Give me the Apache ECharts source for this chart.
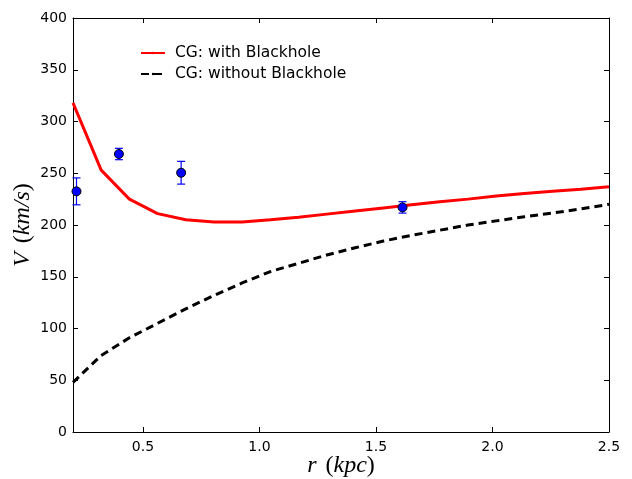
<!DOCTYPE html>
<html><head><meta charset="utf-8">
<script src="https://cdn.jsdelivr.net/npm/echarts@6/dist/echarts.min.js"></script>
<style>html,body{margin:0;padding:0;background:#fff}#c{width:632px;height:479px}</style>
</head><body><div id="c"></div>
<script>
const rValues = [0.2, 0.321, 0.442, 0.563, 0.684, 0.805, 0.926, 1.047, 1.168, 1.289, 1.411, 1.532, 1.653, 1.774, 1.895, 2.016, 2.137, 2.258, 2.379, 2.5];
const withBH = [318, 253, 225, 211, 205, 203, 203, 205, 207.5, 210.5, 213.5, 216.5, 219.5, 222.5, 225, 228, 230.5, 232.5, 234.5, 237];
const withoutBH = [48, 74, 91, 105, 119, 132, 144, 155, 163, 171, 178, 184.5, 190, 195, 200, 204, 208, 211.6, 215.5, 220];
const obsR = [0.215, 0.397, 0.664, 1.614];
const obsV = [232.5, 268.6, 250.5, 217];
const obsErr = [13, 5.5, 11, 5.5];
const xTicks = [0.5, 1.0, 1.5, 2.0, 2.5];
const yTicks = [0, 50, 100, 150, 200, 250, 300, 350, 400];

const zip = (a, b) => a.map((v, i) => [v, b[i]]);
const errData = obsR.map((r, i) => [r, obsV[i] - obsErr[i], obsV[i] + obsErr[i]]);

const chart = echarts.init(document.getElementById('c'));
const tickFont = {fontFamily: 'DejaVu Sans', fontSize: 14, color: '#000'};
const axisLine = {show: true, onZero: false, lineStyle: {color: '#000', width: 1}};
const mathRich = {
  i: {fontFamily: 'Liberation Serif', fontStyle: 'italic', fontSize: 24, color: '#000'},
  n: {fontFamily: 'Liberation Serif', fontSize: 24, color: '#000'},
  s: {fontSize: 24, width: 9}
};
chart.setOption({
  animation: false,
  grid: {left: 73, right: 23, top: 18, bottom: 47, outerBoundsMode: 'none', containLabel: false},
  legend: {
    left: 135, top: 40, orient: 'vertical', itemWidth: 24, itemHeight: 3, itemGap: 5,
    textStyle: {fontFamily: 'DejaVu Sans', fontSize: 15.5, color: '#000', padding: [0, 0, 0, 5]},
    data: [{name: 'CG: with Blackhole'}, {name: 'CG: without Blackhole'}]
  },
  xAxis: [{
    type: 'value', min: 0.2, max: 2.5, position: 'bottom',
    axisLine: axisLine,
    axisTick: {show: true, inside: true, length: 5, customValues: xTicks, lineStyle: {color: '#000'}},
    axisLabel: {show: true, customValues: xTicks, formatter: v => v.toFixed(1), margin: 8, ...tickFont},
    splitLine: {show: false},
    name: '{i|r}{s|}{n|(}{i|kpc}{n|)}', nameLocation: 'middle', nameGap: 22, nameMoveOverlap: false,
    nameTextStyle: {rich: mathRich, verticalAlign: 'top'}
  }, {
    type: 'value', min: 0.2, max: 2.5, position: 'top',
    axisLine: axisLine,
    axisTick: {show: true, inside: true, length: 5, customValues: xTicks, lineStyle: {color: '#000'}},
    axisLabel: {show: false}, splitLine: {show: false}
  }],
  yAxis: [{
    type: 'value', min: 0, max: 400, interval: 50, position: 'left',
    axisLine: axisLine,
    axisTick: {show: true, inside: true, length: 5, lineStyle: {color: '#000'}},
    axisLabel: {show: true, margin: 6, ...tickFont},
    splitLine: {show: false},
    name: '{i|V}{s|}{n|(}{i|km/s}{n|)}', nameLocation: 'middle', nameGap: 38, nameRotate: 90, nameMoveOverlap: false,
    nameTextStyle: {rich: mathRich}
  }, {
    type: 'value', min: 0, max: 400, interval: 50, position: 'right',
    axisLine: axisLine,
    axisTick: {show: true, inside: true, length: 5, lineStyle: {color: '#000'}},
    axisLabel: {show: false}, splitLine: {show: false}
  }],
  series: [{
    name: 'CG: with Blackhole', type: 'line', data: zip(rValues, withBH),
    symbol: 'none', lineStyle: {color: '#ff0000', width: 3}, itemStyle: {color: '#ff0000'}, z: 2
  }, {
    name: 'CG: without Blackhole', type: 'line', data: zip(rValues, withoutBH),
    symbol: 'none', lineStyle: {color: '#000', width: 3, type: [8, 5]}, itemStyle: {color: '#000'}, z: 2
  }, {
    type: 'custom', data: errData, z: 3,
    renderItem: (params, api) => {
      const x = api.value(0);
      const lo = api.coord([x, api.value(1)]);
      const hi = api.coord([x, api.value(2)]);
      const cw = 4;
      const st = {stroke: '#0000ff', lineWidth: 1.2};
      return {type: 'group', children: [
        {type: 'line', shape: {x1: lo[0], y1: lo[1], x2: hi[0], y2: hi[1]}, style: st},
        {type: 'line', shape: {x1: lo[0] - cw, y1: lo[1], x2: lo[0] + cw, y2: lo[1]}, style: st},
        {type: 'line', shape: {x1: hi[0] - cw, y1: hi[1], x2: hi[0] + cw, y2: hi[1]}, style: st}
      ]};
    }
  }, {
    type: 'scatter', data: zip(obsR, obsV), symbol: 'circle', symbolSize: 9, z: 4,
    itemStyle: {color: '#0000ff', borderColor: '#000', borderWidth: 1, opacity: 1}
  }]
});
</script></body></html>
